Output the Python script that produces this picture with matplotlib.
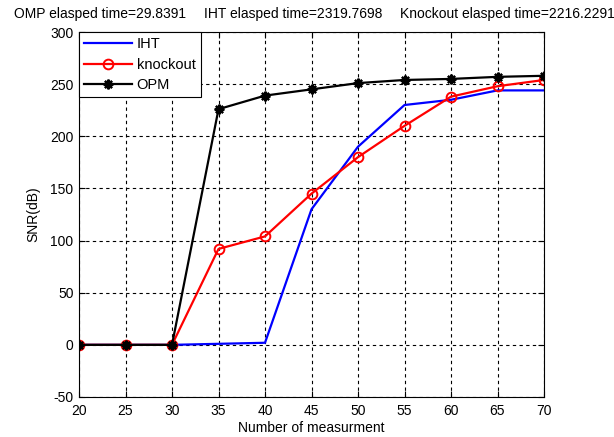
import matplotlib
matplotlib.use('Agg')
import matplotlib.pyplot as plt
import numpy as np

plt.rcParams['font.family'] = ['Liberation Sans', 'DejaVu Sans']
plt.rcParams['font.size'] = 10
plt.rcParams['axes.unicode_minus'] = False

# data
m = [20, 25, 30, 35, 40, 45, 50, 55, 60, 65, 70]
iht = [0, 0, 0, 1, 2, 130, 190, 230, 235, 244, 244]
knockout = [0, 0, 0, 92, 104, 145, 180, 210, 238, 248, 254]
opm = [0, 0, 0, 226, 239, 245, 251, 254, 255, 257, 258]
title_parts = ['OMP elasped time=29.8391', 'IHT elasped time=2319.7698',
               'Knockout elasped time=2216.2291']
title_x = [14, 204, 400]

fig = plt.figure(figsize=(6.14, 4.37), dpi=100)
ax = fig.add_axes([79/614, 40/437, 465/614, 365/437])

ax.plot(m, iht, '-', color='b', lw=1.6, label='IHT')
ax.plot(m, knockout, '-o', color='r', lw=1.6, ms=7, mfc='none', mew=1.4, label='knockout')
ax.plot(m, opm, '-', color='k', lw=1.6, marker=(8, 2, 0), ms=7, mew=1.6, label='OPM')

ax.set_xlim(20, 70)
ax.set_ylim(-50, 300)
ax.set_xticks(np.arange(20, 71, 5))
ax.set_yticks(np.arange(-50, 301, 50))
ax.grid(True, ls=(0, (3, 3)), color='k', lw=0.8)
ax.tick_params(direction='in', length=4, width=0.8, top=True, right=True)
ax.tick_params(axis='x', pad=5)
ax.tick_params(axis='y', pad=4)
for s in ax.spines.values():
    s.set_linewidth(0.8)
ax.set_xlabel('Number of measurment', labelpad=2)
ax.set_ylabel('SNR(dB)', labelpad=7)

leg = ax.legend(loc='upper left', fancybox=False, edgecolor='k', framealpha=1,
                borderaxespad=0, handlelength=3.3, handletextpad=0.3,
                labelspacing=0.45, borderpad=0.35, fontsize=10.5)
leg.get_frame().set_linewidth(0.8)

for t, x in zip(title_parts, title_x):
    fig.text(x/614, 1 - 14/437, t, ha='left', va='center', fontsize=10)

fig.savefig('out.png', dpi=100)
